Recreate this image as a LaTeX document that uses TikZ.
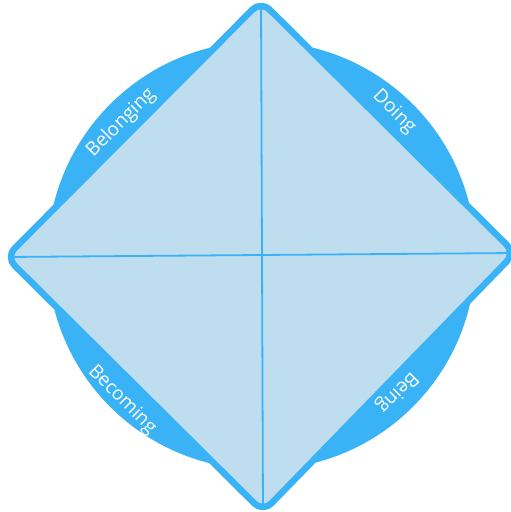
\documentclass[tikz,border=0pt]{standalone}
\usepackage{fontspec}
\setmainfont{Open Sans}
\definecolor{ringblue}{RGB}{58,178,246}
\definecolor{paleblue}{RGB}{190,222,240}
\begin{document}
\begin{tikzpicture}[x=1pt,y=-1pt,
  lbl/.style={text=white,font=\fontsize{19}{19}\selectfont,inner sep=0pt},
  crossline/.style={ringblue,line width=1.8pt,shorten <=6pt,shorten >=6pt}]
\useasboundingbox (0,0) rectangle (511,512);
\coordinate (C) at (261.5,255.5);
\coordinate (T) at (261,1);
\coordinate (R) at (515,253);
\coordinate (B) at (263,512);
\coordinate (L) at (6,257);
\fill[ringblue] (C) circle[radius=214];
\draw[ringblue,fill=paleblue,line width=6.5pt,rounded corners=12pt,line join=round]
  (T) -- (R) -- (B) -- (L) -- cycle;
\draw[crossline] (T) -- (B);
\draw[crossline] (L) -- (R);
\node[lbl,rotate=45] (belonging) at (121,123) {Belonging};
\node[lbl,rotate=-45] (doing) at (394,112) {Doing};
\node[lbl,rotate=-45] (becoming) at (122,400) {Becoming};
\node[lbl,rotate=-135] (being) at (397,392) {Being};
\end{tikzpicture}
\end{document}
